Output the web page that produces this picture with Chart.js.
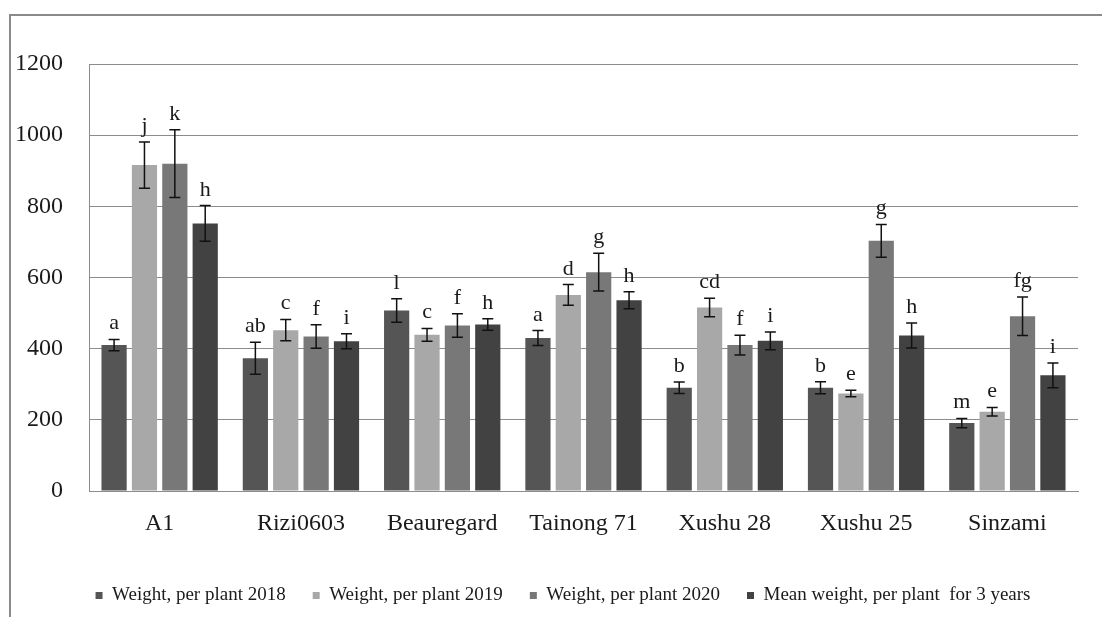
<!DOCTYPE html>
<html>
<head>
<meta charset="utf-8">
<script src="https://cdn.jsdelivr.net/npm/chart.js@4"></script>
<style>
  html, body { margin: 0; padding: 0; background: #fff; }
  #wrap { position: relative; width: 1102px; height: 617px; }
</style>
</head>
<body>
<div id="wrap"><canvas id="chart" width="1102" height="617"></canvas></div>
<script>
// Datos
const categories = ['A1', 'Rizi0603', 'Beauregard', 'Tainong 71', 'Xushu 28', 'Xushu 25', 'Sinzami'];
const seriesNames = ['Weight, per plant 2018', 'Weight, per plant 2019', 'Weight, per plant 2020', 'Mean weight, per plant  for 3 years'];

const weight2018 = [410, 373, 507, 430, 290, 290, 191];
const weight2019 = [916, 452, 439, 551, 516, 274, 223];
const weight2020 = [920, 434, 465, 615, 410, 703, 491];
const weightMean = [752, 421, 468, 536, 422, 437, 325];

const err2018 = [16, 45, 33, 21, 16, 17, 13];
const err2019 = [65, 30, 18, 29, 26, 9, 12];
const err2020 = [95, 33, 33, 53, 28, 46, 54];
const errMean = [50, 21, 16, 24, 25, 35, 35];

const letters2018 = ['a', 'ab', 'l', 'a', 'b', 'b', 'm'];
const letters2019 = ['j', 'c', 'c', 'd', 'cd', 'e', 'e'];
const letters2020 = ['k', 'f', 'f', 'g', 'f', 'g', 'fg'];
const lettersMean = ['h', 'i', 'h', 'h', 'i', 'h', 'i'];

const yTicks = [0, 200, 400, 600, 800, 1000, 1200];

const colors = ['#555555', '#a8a8a8', '#787878', '#424242'];

const values = [weight2018, weight2019, weight2020, weightMean];
const errors = [err2018, err2019, err2020, errMean];
const letters = [letters2018, letters2019, letters2020, lettersMean];

const FONT = '"Liberation Serif", "Times New Roman", serif';

// Marco gris de la figura
const framePlugin = {
  id: 'frame',
  afterLayout(chart) {
    // la leyenda del original está algo desplazada a la derecha
    if (chart.legend) {
      chart.legend.left += 24;
      chart.legend.right += 24;
    }
  },
  beforeDraw(chart) {
    const ctx = chart.ctx;
    ctx.save();
    ctx.fillStyle = '#fff';
    ctx.fillRect(0, 0, chart.width, chart.height);
    ctx.strokeStyle = '#8a8a8a';
    ctx.lineWidth = 2;
    ctx.beginPath();
    ctx.moveTo(10, chart.height);
    ctx.lineTo(10, 15);
    ctx.lineTo(chart.width, 15);
    ctx.stroke();
    ctx.restore();
  }
};

// Barras de error y letras
const errorBarPlugin = {
  id: 'errorBars',
  afterDatasetsDraw(chart) {
    const ctx = chart.ctx;
    const y = chart.scales.y;
    ctx.save();
    chart.data.datasets.forEach((ds, di) => {
      const meta = chart.getDatasetMeta(di);
      meta.data.forEach((bar, i) => {
        const v = ds.data[i];
        const e = errors[di][i];
        const top = y.getPixelForValue(v + e);
        const bottom = y.getPixelForValue(v - e);
        const x = bar.x;
        ctx.strokeStyle = '#111';
        ctx.lineWidth = 1.5;
        ctx.beginPath();
        ctx.moveTo(x, top);
        ctx.lineTo(x, bottom);
        ctx.moveTo(x - 5.5, top);
        ctx.lineTo(x + 5.5, top);
        ctx.moveTo(x - 5.5, bottom);
        ctx.lineTo(x + 5.5, bottom);
        ctx.stroke();

        ctx.fillStyle = '#1a1a1a';
        ctx.font = '22px ' + FONT;
        ctx.textAlign = 'center';
        ctx.textBaseline = 'alphabetic';
        ctx.fillText(letters[di][i], x, top - 10);
      });
    });
    ctx.restore();
  }
};

new Chart(document.getElementById('chart'), {
  type: 'bar',
  data: {
    labels: categories,
    datasets: seriesNames.map((name, i) => ({
      label: name,
      data: values[i],
      backgroundColor: colors[i],
      borderWidth: 0,
      categoryPercentage: 0.86,
      barPercentage: 0.83
    }))
  },
  options: {
    responsive: false,
    animation: false,
    layout: {
      padding: { top: 64, right: 24, bottom: 2, left: 0 }
    },
    plugins: {
      legend: {
        position: 'bottom',
        labels: {
          boxWidth: 7,
          boxHeight: 7,
          padding: 27,
          color: '#1a1a1a',
          font: { family: FONT, size: 19 }
        }
      },
      tooltip: { enabled: false }
    },
    scales: {
      x: {
        grid: { display: false, drawTicks: false },
        border: { display: true, color: '#8c8c8c', width: 1 },
        ticks: {
          color: '#1a1a1a',
          padding: 18,
          font: { family: FONT, size: 24 }
        },
        afterFit(scale) { scale.height = 68; }
      },
      y: {
        min: 0,
        max: 1200,
        afterBuildTicks(scale) { scale.ticks = yTicks.map(v => ({ value: v })); },
        grid: { color: '#8c8c8c', lineWidth: 1, drawTicks: false },
        border: { display: true, color: '#8c8c8c', width: 1 },
        ticks: {
          color: '#1a1a1a',
          padding: 26,
          font: { family: FONT, size: 24 },
          callback: (v) => String(v)
        },
        afterFit(scale) { scale.width = 89; }
      }
    }
  },
  plugins: [framePlugin, errorBarPlugin]
});
</script>
</body>
</html>
